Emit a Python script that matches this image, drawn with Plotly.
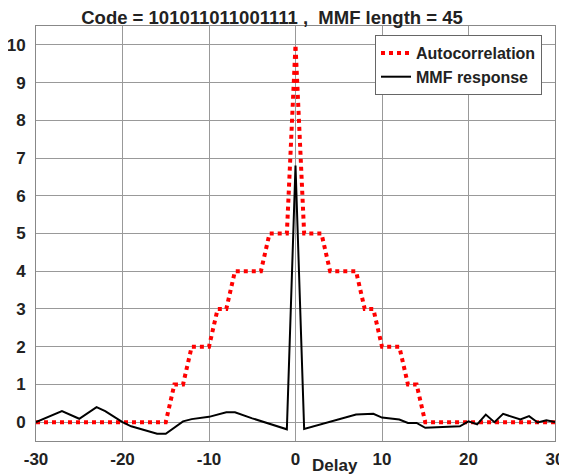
import plotly.graph_objects as go

# Autocorrelation at integer delays -30..30
acf_delay = list(range(-30, 31))
acf_value = [0, 0, 0, 0, 0, 0, 0, 0, 0, 0, 0, 0, 0, 0, 0, 0,
             1, 1, 2, 2, 2, 3, 3, 4, 4, 4, 4, 5, 5, 5,
             10,
             5, 5, 5, 4, 4, 4, 4, 3, 3, 2, 2, 2, 1, 1,
             0, 0, 0, 0, 0, 0, 0, 0, 0, 0, 0, 0, 0, 0, 0, 0]

# MMF response (vertices)
mmf_delay = [-30, -27, -25, -23, -22, -20, -19, -16, -15, -13, -12, -10, -8, -7, -5, -1,
             0, 1, 7, 9, 10, 12, 13, 14, 15, 17, 19, 20, 21, 22, 23, 24, 25, 26, 27, 28, 29, 30]
mmf_value = [0, 0.29, 0.09, 0.4, 0.29, 0.0, -0.11, -0.31, -0.31, 0.02, 0.08, 0.14, 0.26, 0.26, 0.1, -0.19,
             6.8, -0.18, 0.2, 0.22, 0.12, 0.07, -0.02, -0.02, -0.15, -0.14, -0.11, 0.02, -0.06, 0.2, 0.0, 0.22,
             0.15, 0.07, 0.16, -0.01, 0.05, 0.0]

x_ticks = [-30, -20, -10, 0, 10, 20, 30]
y_ticks = list(range(0, 11))

FONT = "Liberation Sans, Arial, sans-serif"
TXT = "#222"

# the page body adds an 8px offset; the figure is sized to fill the rest of the window
W, H = 559, 466
OFF = 8
PL, PR, PT, PB = 36, 555, 26, 441  # plot area in window pixels

fig = go.Figure()
fig.add_trace(go.Scatter(x=acf_delay, y=acf_value, mode="lines", name="<b>Autocorrelation</b>",
                         line=dict(color="#ff0000", width=4, dash="dot")))
fig.add_trace(go.Scatter(x=mmf_delay, y=mmf_value, mode="lines", name="<b>MMF response</b>",
                         line=dict(color="#000000", width=2)))

fig.update_layout(
    width=W, height=H,
    margin=dict(l=PL - OFF, r=W - (PR - OFF), t=PT - OFF, b=H - (PB - OFF), autoexpand=False),
    paper_bgcolor="white", plot_bgcolor="white",
    font=dict(family=FONT, color=TXT),
    title=dict(text="<b>Code = 101011011001111 ,  MMF length = 45</b>",
               x=(272 - OFF) / W, xanchor="center", xref="container",
               y=1 - (17.5 - OFF) / H, yanchor="middle", yref="container",
               font=dict(size=18.5, family=FONT, color=TXT)),
    legend=dict(x=(542 - PL) / (PR - PL), xanchor="right", y=1 - (35 - PT) / (PB - PT), yanchor="top",
                bgcolor="white", bordercolor="#666", borderwidth=1,
                font=dict(size=16, family=FONT, color=TXT),
                tracegroupgap=0, itemwidth=30),
    showlegend=True,
)
fig.update_xaxes(range=[-30, 30], tickvals=x_ticks, ticktext=[f"<b>{t}</b>" for t in x_ticks],
                 showgrid=True, gridcolor="#999", gridwidth=1, zeroline=False,
                 showline=True, linecolor="#888", linewidth=1, mirror=True, automargin=False,
                 ticks="", tickfont=dict(size=17, family=FONT, color=TXT),
                 ticklabelstandoff=3)
fig.update_yaxes(range=[-0.5, 10.5], tickvals=y_ticks, ticktext=[f"<b>{t}</b>" for t in y_ticks],
                 showgrid=True, gridcolor="#999", gridwidth=1, zeroline=False,
                 showline=True, linecolor="#888", linewidth=1, mirror=True, automargin=False,
                 ticks="", tickfont=dict(size=17, family=FONT, color=TXT),
                 ticklabelstandoff=6)
fig.add_annotation(text="<b>Delay</b>", x=(335 - PL) / (PR - PL), xref="paper", xanchor="center",
                   y=(PB - 465) / (PB - PT), yref="paper", yanchor="middle", showarrow=False,
                   font=dict(size=17, family=FONT, color=TXT))

fig.write_html("out.html")
